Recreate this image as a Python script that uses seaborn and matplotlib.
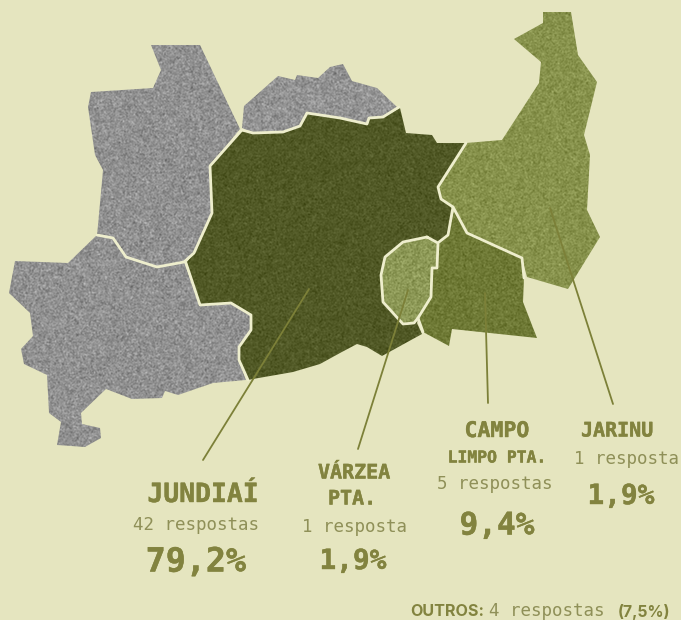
import matplotlib
matplotlib.use('Agg')
import matplotlib.pyplot as plt
import matplotlib.patheffects as pe
import numpy as np
import pandas as pd
import seaborn as sns
from matplotlib.patches import Polygon

BG = "#E5E5BF"
EDGE = "#EEEECD"
TXT = "#82833F"
TXT_L = "#8F9058"
LINE = "#7C8038"

# contours
outros_no = [(151, 45), (200, 45), (240, 129), (210, 166), (212, 213), (194, 253), (184, 262), (157, 267), (126, 257),
             (113, 238), (97, 235), (98, 225), (103, 170), (95, 155), (88, 107), (91, 92), (153, 88), (161, 70)]
outros_n = [(244, 106), (278, 76), (295, 80), (297, 75), (318, 78), (330, 67), (343, 64), (352, 81), (377, 88),
            (397, 107), (383, 117), (369, 118), (367, 124), (340, 118), (307, 113), (300, 126), (283, 132),
            (253, 133), (242, 128)]
outros_so = [(97, 235), (113, 238), (126, 257), (157, 267), (184, 262), (200, 305), (231, 303), (251, 315), (251, 330),
             (239, 347), (239, 360), (246, 380), (213, 383), (178, 395), (165, 391), (162, 398), (132, 399),
             (106, 389), (81, 413), (82, 424), (100, 428), (101, 438), (85, 447), (57, 445), (61, 422), (49, 413),
             (47, 375), (24, 364), (21, 349), (33, 336), (30, 313), (9, 293), (15, 261), (68, 263)]
jundiai = [(241, 131), (210, 166), (212, 213), (194, 253), (186, 263), (200, 305), (231, 303), (251, 315), (251, 330),
           (239, 347), (239, 360), (248, 380), (253, 379), (293, 372), (320, 364), (340, 353), (357, 344), (367, 347),
           (382, 356), (422, 334), (417, 323), (439, 242), (448, 235), (453, 207), (441, 199), (438, 187), (466, 143),
           (437, 143), (432, 135), (406, 133), (400, 108), (383, 117), (369, 118), (367, 124), (340, 118), (307, 113),
           (300, 126), (283, 132), (253, 133)]
campo = [(454, 210), (467, 233), (522, 258), (524, 278), (523, 302), (537, 338), (452, 329), (449, 346), (423, 332),
         (418, 318), (431, 297), (432, 268), (437, 268), (439, 242), (448, 235)]
jarinu = [(543, 12), (571, 12), (578, 55), (597, 82), (584, 135), (590, 155), (587, 210), (600, 237), (568, 289),
          (527, 277), (522, 258), (467, 233), (454, 210), (441, 199), (438, 187), (466, 143), (502, 140), (539, 83),
          (541, 62), (514, 39), (543, 23)]
varzea = [(427, 237), (438, 243), (437, 268), (432, 268), (431, 297), (418, 318), (414, 323), (403, 324), (383, 302),
          (381, 275), (385, 257), (403, 242)]

# shared borders
borders = [
    [(241, 131), (210, 166), (212, 213), (194, 253), (184, 262), (157, 267), (126, 257), (113, 238), (97, 235)],
    [(242, 130), (253, 133), (283, 132), (300, 126), (307, 113), (340, 118), (367, 124), (369, 118), (383, 117),
     (399, 107)],
    [(186, 263), (200, 305), (231, 303), (251, 315), (251, 330), (239, 347), (239, 360), (248, 380)],
    [(466, 143), (438, 187), (441, 199), (453, 207), (467, 233), (522, 258), (524, 278)],
    [(453, 207), (448, 235), (439, 242)],
    [(418, 318), (423, 332)],
    [(427, 237), (438, 243), (437, 268), (432, 268), (431, 297), (418, 318), (414, 323), (403, 324), (383, 302),
     (381, 275), (385, 257), (403, 242), (427, 237)],
]

regioes = [outros_no, outros_n, outros_so, jundiai, campo, jarinu, varzea]
cores = ["#919191", "#939393", "#919191", "#515926", "#6E7935", "#87924C", "#8D9957"]
ruido = [11, 11, 11, 6, 7, 8, 9]

# leader lines
linhas = [[(309, 289), (203, 460)], [(408, 290), (358, 449)], [(485, 293), (488, 403)], [(550, 208), (613, 404)]]

sns.set_theme(style="white", rc={"figure.facecolor": BG, "axes.facecolor": BG})
MONO = "DejaVu Sans Mono"

fig = plt.figure(figsize=(6.81, 6.20), dpi=100)
ax = fig.add_axes([0, 0, 1, 1])


def grao(cor, amp, seed):
    # film grain texture only, not data
    g = np.random.default_rng(seed)
    n = g.normal(size=(620, 681))
    n = sum(np.roll(n, (a, b), (0, 1)) for a in range(2) for b in range(2)) / 2
    rgb = np.array(matplotlib.colors.to_rgb(cor))[None, None, :]
    return np.clip(rgb + n[:, :, None] * amp / 255, 0, 1)


for i, pts in enumerate(regioes):
    im = ax.imshow(grao(cores[i], ruido[i], i), extent=(0, 681, 620, 0), aspect='auto', zorder=2 + i * 0.01,
                   interpolation='bilinear')
    p = Polygon(pts, closed=True, transform=ax.transData)
    im.set_clip_path(p)

for b in borders:
    t = pd.DataFrame(b, columns=["x", "y"])
    sns.lineplot(t, x="x", y="y", sort=False, estimator=None, color=EDGE, lw=2.0, ax=ax, zorder=4,
                 solid_joinstyle='round')

for l in linhas:
    t = pd.DataFrame(l, columns=["x", "y"])
    sns.lineplot(t, x="x", y="y", sort=False, estimator=None, color=LINE, lw=1.3, ax=ax, zorder=5)

ax.set_xlim(0, 681)
ax.set_ylim(620, 0)
ax.axis('off')


def txt(x, y, s, size, bold=True, ha='center', cor=None, fam=None):
    c = cor or (TXT if bold else TXT_L)
    t = ax.text(x, y, s, fontsize=size, ha=ha, va='center', color=c, family=fam or MONO,
                fontweight='bold' if bold else 'normal', zorder=6)
    if bold and fam is None:
        t.set_path_effects([pe.withStroke(linewidth=0.3, foreground=c)])


txt(203, 495, "JUNDIAÍ", 19)
txt(196, 525, "42 respostas", 12.6, bold=False)
txt(196, 562, "79,2%", 24)

txt(354, 473, "VÁRZEA", 14.4)
txt(352, 499, "PTA.", 14.4)
txt(354, 527, "1 resposta", 12.6, bold=False)
txt(353, 561, "1,9%", 20)

txt(497, 431, "CAMPO", 15.5)
txt(497, 458, "LIMPO PTA.", 11.8)
txt(495, 484, "5 respostas", 12.6, bold=False)
txt(497, 526, "9,4%", 22.4)

txt(617, 431, "JARINU", 14.4)
txt(626, 459, "1 resposta", 12.6, bold=False)
txt(621, 496, "1,9%", 20)

txt(410, 612, "OUTROS:", 11.6, ha='left', fam="Inter")
txt(547, 611, "4 respostas", 12.6, bold=False)
txt(618, 612, "(7,5%)", 11.4, ha='left', fam="Inter")

fig.savefig("out.png", dpi=100, facecolor=BG)
